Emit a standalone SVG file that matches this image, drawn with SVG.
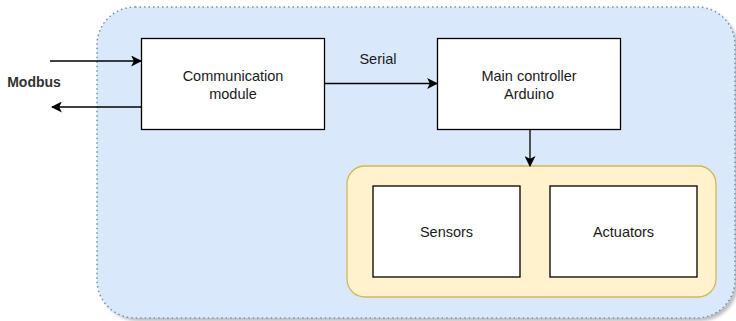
<svg xmlns="http://www.w3.org/2000/svg" width="736" height="321" viewBox="0 0 736 321">
<style>
  text { font-family: "Liberation Sans", Arial, sans-serif; font-size: 14.5px; fill: #1a1a1a; text-anchor: middle; dominant-baseline: central; }
  .box { fill: #ffffff; stroke: #000000; stroke-width: 1.3; }
  .edge { fill: none; stroke: #000000; stroke-width: 1.3; }
</style>
<defs>
  <marker id="arr" viewBox="0 0 10 10" refX="9" refY="5" markerWidth="11" markerHeight="11" markerUnits="userSpaceOnUse" orient="auto">
    <path d="M0,0 L10,5 L0,10 L2.5,5 Z" fill="#000000"/>
  </marker>
  <filter id="sh" x="-5%" y="-5%" width="110%" height="110%">
    <feDropShadow dx="3" dy="3" stdDeviation="1.5" flood-color="#000000" flood-opacity="0.25"/>
  </filter>
</defs>
<g id="system">
  <rect x="97" y="7" width="638" height="311" rx="38" ry="38" fill="#dae8fc" stroke="#6c8ebf" stroke-width="1.5" stroke-dasharray="1.5 3" filter="url(#sh)"/>
</g>
<g id="modbus-label">
  <text x="34" y="82" style="font-weight:bold;font-size:14px;fill:#333333">Modbus</text>
</g>
<g id="comm">
  <rect class="box" x="141.5" y="38.5" width="183" height="91"/>
  <text x="233" y="75.5">Communication</text>
  <text x="233" y="94">module</text>
</g>
<g id="main">
  <rect class="box" x="437.5" y="38.5" width="183" height="91"/>
  <text x="529" y="75.5">Main controller</text>
  <text x="529" y="94">Arduino</text>
</g>
<g id="io-group">
  <rect x="347" y="166" width="369" height="131" rx="18" ry="18" fill="#fff2cc" stroke="#d6b656" stroke-width="1.3"/>
</g>
<g id="sensors">
  <rect class="box" x="373" y="186" width="147" height="91"/>
  <text x="446.5" y="231.5">Sensors</text>
</g>
<g id="actuators">
  <rect class="box" x="550" y="186" width="147" height="91"/>
  <text x="623.5" y="231.5">Actuators</text>
</g>
<g id="connectors">
  <line class="edge" x1="50" y1="61" x2="141" y2="61" marker-end="url(#arr)"/>
  <line class="edge" x1="141" y1="107" x2="52" y2="107" marker-end="url(#arr)"/>
  <line class="edge" x1="325" y1="83.5" x2="437" y2="83.5" marker-end="url(#arr)"/>
  <line class="edge" x1="530" y1="130" x2="530" y2="166" marker-end="url(#arr)"/>
  <text x="378" y="59">Serial</text>
</g>
</svg>
